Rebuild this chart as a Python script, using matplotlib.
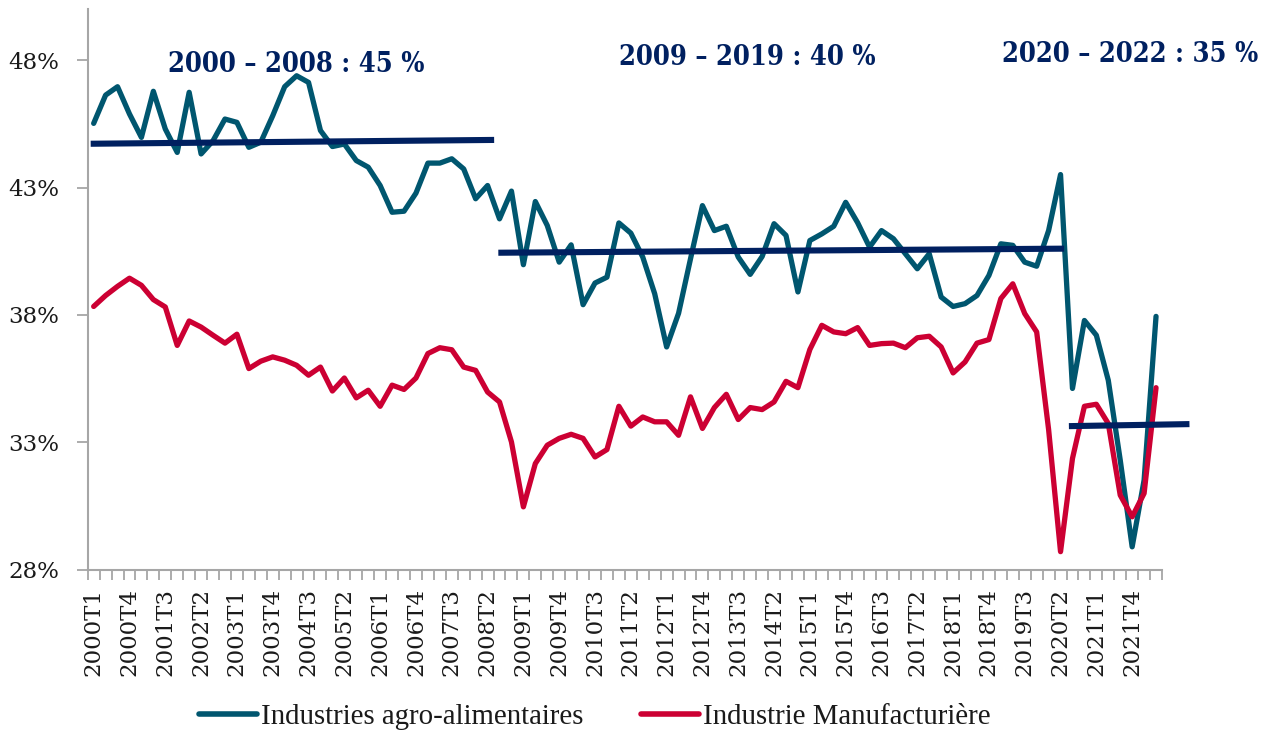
import matplotlib
matplotlib.use("Agg")
import matplotlib.pyplot as plt
from matplotlib.ticker import FixedLocator, FuncFormatter, NullFormatter

# ---------------- data ----------------
quarters = [f"{y}T{q}" for y in range(2000, 2023) for q in range(1, 5)][:90]

agro = [45.52, 46.63, 46.96, 45.89, 44.97, 46.78, 45.30, 44.38, 46.74, 44.32,
        44.84, 45.69, 45.56, 44.58, 44.78, 45.82, 46.96, 47.39, 47.13, 45.24,
        44.61, 44.71, 44.06, 43.80, 43.08, 42.03, 42.07, 42.78, 43.96, 43.96,
        44.13, 43.73, 42.56, 43.08, 41.77, 42.86, 39.97, 42.45, 41.51, 40.07,
        40.75, 38.40, 39.25, 39.48, 41.61, 41.21, 40.27, 38.83, 36.74, 38.06,
        40.20, 42.29, 41.31, 41.48, 40.27, 39.59, 40.29, 41.58, 41.12, 38.90,
        40.92, 41.18, 41.48, 42.42, 41.62, 40.66, 41.31, 40.99, 40.40, 39.81,
        40.40, 38.70, 38.33, 38.44, 38.76, 39.55, 40.79, 40.73, 40.07, 39.91,
        41.31, 43.51, 35.11, 37.78, 37.20, 35.43, 32.30, 28.89, 31.51, 37.94]

manuf = [38.33, 38.76, 39.12, 39.44, 39.16, 38.60, 38.31, 36.80, 37.76, 37.52,
         37.20, 36.89, 37.24, 35.89, 36.18, 36.35, 36.22, 36.02, 35.63, 35.95,
         35.01, 35.52, 34.74, 35.04, 34.41, 35.24, 35.07, 35.52, 36.48, 36.71,
         36.63, 35.95, 35.82, 34.97, 34.58, 33.01, 30.46, 32.16, 32.88, 33.15,
         33.31, 33.15, 32.42, 32.71, 34.41, 33.63, 33.99, 33.80, 33.80, 33.27,
         34.78, 33.54, 34.36, 34.88, 33.89, 34.36, 34.28, 34.58, 35.39, 35.14,
         36.64, 37.59, 37.33, 37.26, 37.50, 36.80, 36.87, 36.89, 36.71, 37.10,
         37.16, 36.74, 35.72, 36.15, 36.89, 37.03, 38.64, 39.22, 38.05, 37.33,
         33.50, 28.70, 32.36, 34.41, 34.49, 33.73, 30.92, 30.07, 30.99, 35.14]

series_names = ["Industries agro-alimentaires", "Industrie Manufacturière"]

# period averages (drawn segments): start/end category position and level
period_labels = ["2000 – 2008 : 45 %", "2009 – 2019 : 40 %", "2020 – 2022 : 35 %"]
period_x0 = [-0.25, 33.9, 81.7]
period_x1 = [33.55, 81.3, 91.8]
period_y0 = [44.72, 40.44, 33.63]
period_y1 = [44.87, 40.60, 33.71]
label_x = [16.96, 54.76, 86.8]
label_y = [47.84, 48.10, 48.24]

y_ticks = [28, 33, 38, 43, 48]

# ---------------- style ----------------
TEAL = "#00566F"
RED = "#CC0033"
NAVY = "#002060"
GRAY = "#A6A6A6"
TXT = "#1A1A1A"

fig = plt.figure(figsize=(12.76, 7.36), dpi=100)
ax = fig.add_axes([87.7 / 1276, 1 - 569.5 / 736, (1162 - 87.7) / 1276, (569.5 - 9.3) / 736])

x = list(range(len(quarters)))
l1, = ax.plot(x, agro, color=TEAL, lw=3.8, solid_joinstyle="round",
              solid_capstyle="round", zorder=3, label=series_names[0])
l2, = ax.plot(x, manuf, color=RED, lw=3.8, solid_joinstyle="round",
              solid_capstyle="round", zorder=3, label=series_names[1])

for x0, x1, y0, y1 in zip(period_x0, period_x1, period_y0, period_y1):
    ax.plot([x0, x1], [y0, y1], color=NAVY, lw=4.4, solid_capstyle="butt",
            zorder=4, clip_on=False)

for lab, lx, ly in zip(period_labels, label_x, label_y):
    ax.text(lx, ly, lab, ha="center", va="center", color=NAVY,
            fontsize=19.5, fontweight="bold", fontstretch="condensed",
            family="DejaVu Serif", zorder=5)

ax.set_xlim(-0.5, len(quarters) - 0.5)
ax.set_ylim(28, 50)

# y axis
ax.yaxis.set_major_locator(FixedLocator(y_ticks))
ax.yaxis.set_major_formatter(FuncFormatter(lambda v, p: f"{v:.0f}%"))
ax.tick_params(axis="y", which="major", length=8, width=1.3, color=GRAY,
               pad=12.5, labelsize=16.5, labelcolor=TXT)

# x axis: labels every 3 quarters at centers, ticks at category boundaries
lab_pos = [p for p in range(0, len(quarters), 3) if p <= 87]
ax.xaxis.set_major_locator(FixedLocator(lab_pos))
ax.set_xticklabels([quarters[p] for p in lab_pos], rotation=90)
ax.xaxis.set_minor_locator(FixedLocator([i - 0.5 for i in range(len(quarters) + 1)]))
ax.xaxis.set_minor_formatter(NullFormatter())
ax.tick_params(axis="x", which="major", length=0, pad=13.3, labelsize=16.5,
               labelcolor=TXT)
ax.tick_params(axis="x", which="minor", length=7, width=1.3, color=GRAY)

for lab in ax.get_xticklabels() + ax.get_yticklabels():
    lab.set_family("DejaVu Serif")

for s in ["top", "right"]:
    ax.spines[s].set_visible(False)
for s in ["left", "bottom"]:
    ax.spines[s].set_color(GRAY)
    ax.spines[s].set_linewidth(1.5)

leg = fig.legend(handles=[l1, l2], loc="center", bbox_to_anchor=(595 / 1276, 1 - 717 / 736),
                 ncol=2, frameon=False, handlelength=2.0, handletextpad=0.15,
                 columnspacing=2.0, prop={"family": "Liberation Serif", "size": 20.8})
for t in leg.get_texts():
    t.set_color(TXT)
for h in leg.get_lines():
    h.set_linewidth(4.0)

fig.savefig("out.png", dpi=100)
